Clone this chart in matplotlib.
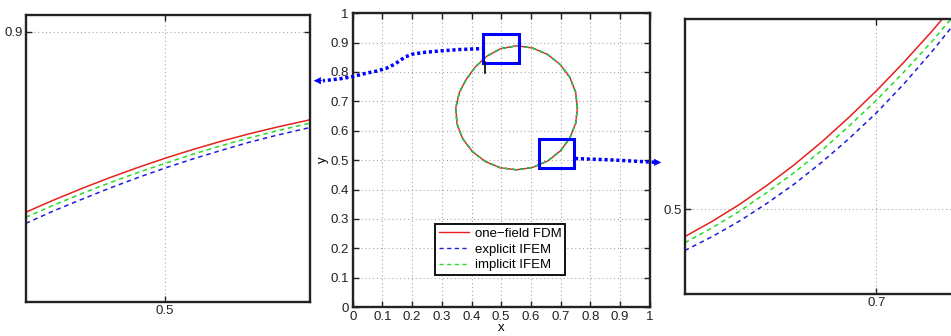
import numpy as np
import matplotlib
matplotlib.use("Agg")
import matplotlib.pyplot as plt
from matplotlib.patches import Rectangle, FancyArrowPatch
from matplotlib.lines import Line2D

plt.rcParams["font.family"] = ["Liberation Sans", "DejaVu Sans"]
plt.rcParams["font.size"] = 9.5

# interface contour at t_end (the three methods overlap at this scale)
contour_x = [0.757, 0.751, 0.731, 0.699, 0.657, 0.606, 0.552, 0.498, 0.451, 0.413,
             0.383, 0.359, 0.347, 0.351, 0.370, 0.403, 0.447, 0.497, 0.552, 0.606,
             0.657, 0.699, 0.731, 0.751, 0.757]
contour_y = [0.678, 0.731, 0.782, 0.825, 0.859, 0.881, 0.889, 0.879, 0.853, 0.817,
             0.776, 0.730, 0.678, 0.624, 0.573, 0.529, 0.495, 0.474, 0.467, 0.475,
             0.497, 0.531, 0.574, 0.625, 0.678]

# detail near the top of the interface
top_x = [0.450, 0.460, 0.470, 0.480, 0.490, 0.500, 0.510, 0.520, 0.530, 0.540, 0.552]
top_fdm = [0.8466, 0.8502, 0.8536, 0.8568, 0.8598, 0.8626, 0.8652, 0.8676, 0.8698, 0.8718, 0.8740]
top_explicit = [0.8433, 0.8470, 0.8504, 0.8537, 0.8568, 0.8597, 0.8624, 0.8649, 0.8673, 0.8694, 0.8717]
top_implicit = [0.8451, 0.8487, 0.8521, 0.8553, 0.8583, 0.8611, 0.8638, 0.8663, 0.8686, 0.8707, 0.8730]

# detail near the lower right of the interface
low_x = [0.630, 0.640, 0.650, 0.660, 0.670, 0.680, 0.690, 0.700, 0.710, 0.720, 0.730]
low_fdm = [0.4919, 0.4964, 0.5014, 0.5070, 0.5131, 0.5198, 0.5271, 0.5349, 0.5433, 0.5522, 0.5617]
low_explicit = [0.4878, 0.4919, 0.4965, 0.5017, 0.5074, 0.5138, 0.5208, 0.5284, 0.5369, 0.5462, 0.5562]
low_implicit = [0.4901, 0.4945, 0.4994, 0.5049, 0.5108, 0.5173, 0.5245, 0.5321, 0.5404, 0.5492, 0.5587]

labels = ["one\u2212field FDM", "explicit IFEM", "implicit IFEM"]
main_ticks = [0, 0.1, 0.2, 0.3, 0.4, 0.5, 0.6, 0.7, 0.8, 0.9, 1.0]
main_ticklabels = ["0", "0.1", "0.2", "0.3", "0.4", "0.5", "0.6", "0.7", "0.8", "0.9", "1"]

RED = "#e8211d"
BLUE = "#1c1ce0"
GREEN = "#22dd22"


def matlab_axes(ax):
    ax.grid(True, linestyle=(0, (1, 2.5)), color="#a8a8a8", linewidth=0.8)
    ax.tick_params(direction="in", top=True, right=True, length=4, width=1,
                   pad=2, color="#222222", labelcolor="#222222")
    for s in ax.spines.values():
        s.set_linewidth(1.7)
        s.set_color("#222222")


def draw_series(ax, xs, ys, lw=1.0):
    ax.plot(xs, ys[0], color=RED, lw=lw, label=labels[0])
    ax.plot(xs, ys[1], color=BLUE, lw=lw, dashes=(3, 2.5), label=labels[1])
    ax.plot(xs, ys[2], color=GREEN, lw=lw, dashes=(3, 2.5), label=labels[2])


fig = plt.figure(figsize=(9.51, 3.36), dpi=100)

# left zoom panel
ax_l = fig.add_axes([0.027, 0.101, 0.299, 0.854])
draw_series(ax_l, top_x, [top_fdm, top_explicit, top_implicit], lw=1.1)
ax_l.set_xlim(0.45, 0.552)
ax_l.set_ylim(0.82, 0.905)
ax_l.set_xticks([0.5], ["0.5"])
ax_l.set_yticks([0.9], ["0.9"])
matlab_axes(ax_l)

# full domain
ax = fig.add_axes([0.371, 0.086, 0.312, 0.875])
draw_series(ax, contour_x, [contour_y, contour_y, contour_y], lw=1.0)
ax.set_xlim(0, 1)
ax.set_ylim(0, 1)
ax.set_xticks(main_ticks, main_ticklabels)
ax.set_yticks(main_ticks, main_ticklabels)
ax.set_xlabel("x", labelpad=-1)
ax.set_ylabel("y", labelpad=1)
matlab_axes(ax)
ax.tick_params(pad=3)

# zoom windows
ax.add_patch(Rectangle((0.44, 0.83), 0.12, 0.10, fill=False, ec="blue", lw=2.2, zorder=5))
ax.add_patch(Rectangle((0.627, 0.473), 0.117, 0.10, fill=False, ec="blue", lw=2.2, zorder=5))
ax.plot([0.445, 0.445], [0.797, 0.832], color="k", lw=1.2, zorder=6)

leg = ax.legend(loc="center", bbox_to_anchor=(0.497, 0.196), fancybox=False,
                framealpha=1, edgecolor="#111111", handlelength=2.3,
                handletextpad=0.4, labelspacing=0.25, borderpad=0.3,
                borderaxespad=0, fontsize=9.5)
leg.get_frame().set_linewidth(1.4)

# right zoom panel (runs off the page edge)
ax_r = fig.add_axes([0.720, 0.125, 0.288, 0.818])
draw_series(ax_r, low_x, [low_fdm, low_explicit, low_implicit], lw=1.1)
ax_r.set_xlim(0.63, 0.73)
ax_r.set_ylim(0.475, 0.556)
ax_r.set_xticks([0.7], ["0.7"])
ax_r.set_yticks([0.5], ["0.5"])
matlab_axes(ax_r)

# connectors from the windows to the panels (figure pixels, top-left origin)
W, H = 951.0, 336.0
path1 = [(485, 48.5), (460, 49.5), (443, 50.7), (425, 52.3), (413, 54), (405, 57),
         (400, 60.5), (395, 64), (387, 68), (377, 71), (367, 73), (353, 76.5),
         (340, 78.8), (327, 80.3), (323, 80.7)]
path2 = [(575, 158.5), (613, 160), (650, 162), (655, 162.2)]
for path in (path1, path2):
    xs = [p[0] / W for p in path]
    ys = [1 - p[1] / H for p in path]
    fig.add_artist(Line2D(xs, ys, transform=fig.transFigure, color="blue",
                          lw=2.5, dashes=(0.9, 0.8)))
for tail, tip in (((325, 80.7), (311, 80.7)), ((653, 162.3), (664, 162.5))):
    fig.add_artist(FancyArrowPatch((tail[0] / W, 1 - tail[1] / H),
                                   (tip[0] / W, 1 - tip[1] / H),
                                   transform=fig.transFigure, arrowstyle="-|>",
                                   mutation_scale=11, color="blue", lw=0.5))

fig.savefig("out.png", dpi=100)
